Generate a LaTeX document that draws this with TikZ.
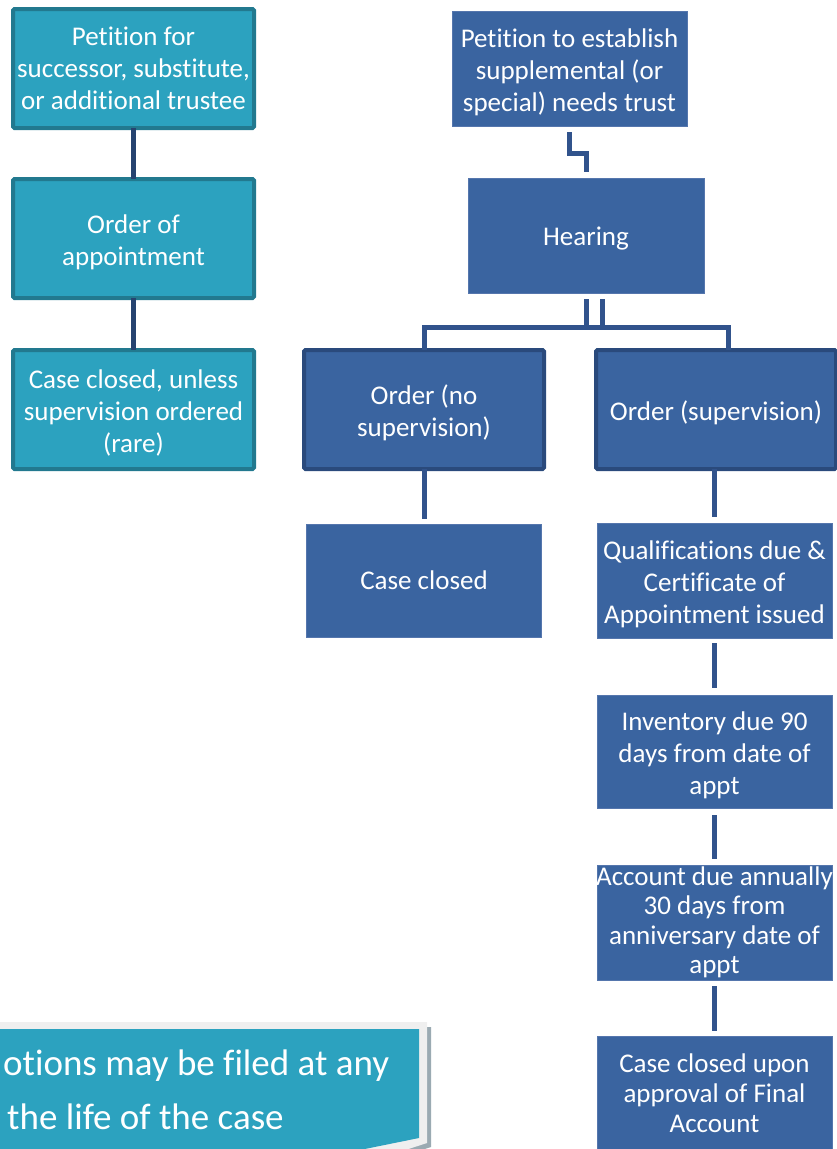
\documentclass[tikz,border=0pt]{standalone}
\usepackage{fontspec}
\setmainfont{Carlito}[Ligatures={NoCommon,NoContextual}]
\definecolor{tealfill}{HTML}{2CA2BF}
\definecolor{tealedge}{HTML}{22798F}
\definecolor{bluefill}{HTML}{3A64A0}
\definecolor{blueedge}{HTML}{5576AD}
\definecolor{orderedge}{HTML}{2A4A7C}
\definecolor{connblue}{HTML}{31538C}
\definecolor{framegrey}{HTML}{EFEFEF}
\definecolor{shadowgrey}{HTML}{9AAAB2}
\begin{document}
\begin{tikzpicture}[x=1pt,y=-1pt,
  boxtext/.style={text=white,align=center,inner sep=0pt,outer sep=0pt,
    font=\fontsize{27}{32}\selectfont},
  tx/.style={label={[boxtext,yshift=-3.5pt]center:{#1}}},
  txo/.style={label={[boxtext]center:{#1}}},
  txtight/.style={label={[boxtext,font=\fontsize{27}{29.5}\selectfont]center:{#1}}},
  txfinal/.style={label={[boxtext,font=\fontsize{27}{30}\selectfont]center:{#1}}},
  tealbox/.style={inner sep=0pt,outer sep=0pt,fill=tealfill,draw=tealedge,line width=4pt,
    rounded corners=1.5pt,minimum width=241pt,minimum height=119pt},
  bluebox/.style={inner sep=0pt,outer sep=0pt,fill=bluefill,draw=blueedge,line width=0.8pt,
    minimum width=235pt},
  orderbox/.style={inner sep=0pt,outer sep=0pt,fill=bluefill,draw=orderedge,line width=4pt,
    rounded corners=1.5pt,minimum width=240pt,minimum height=119pt},
  conn/.style={draw=connblue,line width=5pt},
  conndark/.style={draw=orderedge!90!black,line width=4.5pt}]
\useasboundingbox (0,0) rectangle (837,1149);
\clip (0,0) rectangle (837,1149);

% left column
\node[tealbox,txo={Petition for\\successor, substitute,\\or additional trustee}] (t1) at (133.5,68.5) {};
\node[tealbox,tx={Order of\\appointment}] (t2) at (133.5,238.5) {};
\node[tealbox,tx={Case closed, unless\\supervision ordered\\(rare)}] (t3) at (133.5,409.5) {};
\draw[conndark] (t1.south) -- (t2.north);
\draw[conndark] (t2.south) -- (t3.north);

% right tree
\node[bluebox,minimum height=115pt,tx={Petition to establish\\supplemental (or\\special) needs trust}] (pet) at (569.5,68.5) {};
\node[bluebox,minimum width=236pt,minimum height=115pt,tx={Hearing}] (hear) at (586,235.5) {};
\node[orderbox,tx={Order (no\\supervision)}] (ordno) at (424,409.5) {};
\node[orderbox,tx={Order (supervision)}] (ordsup) at (716,409.5) {};
\node[bluebox,minimum height=113pt,txo={Case closed}] (closed) at (424,580.5) {};
\node[bluebox,minimum height=115pt,tx={Qualifications due \&\\Certificate of\\Appointment issued}] (qual) at (714.5,580.5) {};
\node[bluebox,minimum height=113pt,tx={Inventory due 90\\days from date of\\appt}] (inv) at (714.5,751.5) {};
\node[bluebox,minimum height=115pt,txtight={Account due annually\\30 days from\\anniversary date of\\appt}] (acct) at (714.5,922.5) {};
\node[bluebox,minimum height=114pt,txfinal={Case closed upon\\approval of Final\\Account}] (final) at (714.5,1093) {};

\draw[conn] ([yshift=-6pt]pet.south) -- ++(0,21) -| ([yshift=6pt]hear.north);
\draw[conn] ([yshift=-6pt]hear.south) -- ++(0,29);
\draw[conn] ([xshift=16pt,yshift=-6pt]hear.south) -- ++(0,29);
\draw[conn] (ordno.north) -- ++(0,-22.5) -| ([xshift=12pt]ordsup.north);
\draw[conn] (ordno.south) -- ([yshift=5pt]closed.north);
\draw[conn] (qual.north |- ordsup.south) -- ([yshift=6pt]qual.north);
\draw[conn] ([yshift=-5pt]qual.south) -- ([yshift=7pt]inv.north);
\draw[conn] ([yshift=-7pt]inv.south) -- ([yshift=6pt]acct.north);
\draw[conn] ([yshift=-6pt]acct.south) -- ([yshift=5pt]final.north);

% callout
\fill[shadowgrey] (-10,1027) -- (431,1027) -- (431,1147) -- (360,1170) -- (-10,1170) -- cycle;
\fill[framegrey] (-10,1022) -- (427,1022) -- (427,1143) -- (356,1166) -- (-10,1166) -- cycle;
\fill[tealfill] (-10,1029) -- (419,1029) -- (419,1138) -- (350,1152) -- (-10,1152) -- cycle;
\node[text=white,align=left,anchor=west,inner sep=0pt,
  font=\fontsize{37}{54}\selectfont] (note) at (3,1090)
  {otions may be filed at any\\\hspace*{4pt}the life of the case};
\end{tikzpicture}
\end{document}
